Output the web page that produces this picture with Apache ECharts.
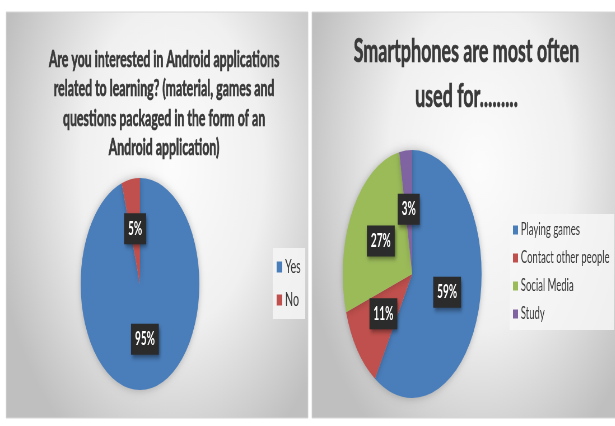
<!DOCTYPE html>
<html>
<head>
<meta charset="utf-8">
<script src="https://cdn.jsdelivr.net/npm/echarts@6/dist/echarts.min.js"></script>
<style>
  html, body { margin: 0; padding: 0; background: #ffffff; overflow: hidden; width: 615px; height: 426px; }
  #chart { width: 1098px; height: 426px; transform: scaleX(0.56); transform-origin: 0 0; }
</style>
</head>
<body>
<div id="chart"></div>
<script>
// ---- data ----
const leftTitle = 'Are you interested in Android applications\nrelated to learning? (material, games and\nquestions packaged in the form of an\nAndroid application)';
const leftCategories = ['Yes', 'No'];
const leftValues = [95, 5];

const rightTitle = 'Smartphones are most often\nused for.........';
const rightCategories = ['Playing games', 'Contact other people', 'Social Media', 'Study'];
const rightValues = [59, 11, 27, 3];

// ---- styles ----
const palette = ['#4A7EBB', '#C0504D', '#9BBB59', '#8064A2'];
const FONT = 'Lato, "Liberation Sans", sans-serif';
const textDark = '#3a3a3a';

function pieData(cats, vals) {
  return cats.map((c, i) => ({ name: c, value: vals[i], itemStyle: { color: palette[i] } }));
}

const labelStyle = {
  show: true,
  position: 'inside',
  formatter: '{c}%',
  color: '#ffffff',
  fontFamily: FONT,
  fontWeight: 'bold',
  fontSize: 18,
  backgroundColor: '#2b2b2b',
  padding: [7, 7, 6, 7],
  shadowColor: 'rgba(0,0,0,0.45)',
  shadowBlur: 5,
  shadowOffsetX: 2,
  shadowOffsetY: 3
};

function panelFill() {
  return {
    type: 'radial', x: 0.55, y: 0.38, r: 0.8,
    colorStops: [
      { offset: 0, color: '#fcfcfc' },
      { offset: 0.5, color: '#f0f0f0' },
      { offset: 1, color: '#bfbfbf' }
    ]
  };
}

const titleWeight = { fontFamily: FONT, fontWeight: 'bold', color: textDark, textBorderColor: textDark, textBorderWidth: 0.7 };

const chart = echarts.init(document.getElementById('chart'), null, { renderer: 'canvas' });
chart.setOption({
  animation: false,
  backgroundColor: '#ffffff',
  graphic: [
    { type: 'rect', z: -10, shape: { x: 11, y: 12, width: 539, height: 406 },
      style: { fill: panelFill(), stroke: '#d6d6d6', lineWidth: 1 } },
    { type: 'rect', z: -10, shape: { x: 557, y: 12, width: 545, height: 406 },
      style: { fill: panelFill(), stroke: '#d6d6d6', lineWidth: 1 } }
  ],
  title: [
    { text: leftTitle, left: 293, top: 45, textAlign: 'center', padding: 0,
      textStyle: Object.assign({ fontSize: 22, lineHeight: 29.5 }, titleWeight) },
    { text: rightTitle, left: 833, top: 29, textAlign: 'center', padding: 0,
      textStyle: Object.assign({ fontSize: 32, lineHeight: 45 }, titleWeight) }
  ],
  legend: [
    { data: leftCategories, orient: 'vertical', left: 487, top: 248, padding: [8, 8, 8, 7],
      icon: 'rect', itemWidth: 10, itemHeight: 11, itemGap: 11,
      backgroundColor: 'rgba(246,246,246,0.85)',
      textStyle: { fontFamily: FONT, fontSize: 19, lineHeight: 22, color: textDark } },
    { data: rightCategories, orient: 'vertical', left: 910, top: 214, padding: [6, 8, 6, 6],
      icon: 'rect', itemWidth: 9, itemHeight: 9, itemGap: 8,
      backgroundColor: 'rgba(246,246,246,0.85)',
      textStyle: { fontFamily: FONT, fontSize: 17, lineHeight: 20, color: textDark } }
  ],
  series: [
    { type: 'pie', name: 'Android learning apps', center: [250, 284], radius: 106,
      startAngle: 90, clockwise: true,
      label: labelStyle, labelLine: { show: false },
      itemStyle: { shadowBlur: 10, shadowColor: 'rgba(0,0,0,0.25)' },
      emphasis: { disabled: true },
      data: pieData(leftCategories, leftValues) },
    { type: 'pie', name: 'Smartphone use', center: [736, 274], radius: 124,
      startAngle: 90, clockwise: true,
      label: labelStyle, labelLine: { show: false },
      itemStyle: { shadowBlur: 10, shadowColor: 'rgba(0,0,0,0.25)' },
      emphasis: { disabled: true },
      data: pieData(rightCategories, rightValues) }
  ]
});
</script>
</body>
</html>
